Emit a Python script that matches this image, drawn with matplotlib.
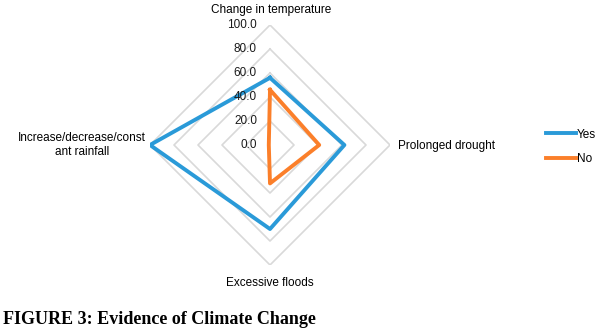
import numpy as np
import matplotlib
matplotlib.use('Agg')
import matplotlib.pyplot as plt
from matplotlib.transforms import offset_copy

categories = ['Change in temperature', 'Prolonged drought', 'Excessive floods',
              'Increase/decrease/const\nant rainfall']
yes_vals = [56, 62, 70, 100]
no_vals = [46, 41, 32, 1]
ring_levels = [0, 20, 40, 60, 80, 100]
ring_labels = ['0.0', '20.0', '40.0', '60.0', '80.0', '100.0']

plt.rcParams['font.family'] = ['Liberation Sans', 'DejaVu Sans']

W, H = 615, 333
fig = plt.figure(figsize=(W / 100, H / 100), dpi=100)
cx, cy, rad = 270, 145, 120
ax = fig.add_axes([(cx - rad) / W, (H - cy - rad) / H, 2 * rad / W, 2 * rad / H],
                  projection='polar')
ax.set_theta_offset(np.pi / 2)
ax.set_theta_direction(-1)
ax.set_ylim(0, 100)
ax.grid(False)
ax.spines['polar'].set_visible(False)
ax.set_xticks([])
ax.set_yticks([])
ax.patch.set_visible(False)

theta = np.linspace(0, 2 * np.pi, len(categories), endpoint=False)
theta_closed = np.append(theta, theta[0])

# diamond rings
for r in ring_levels[1:]:
    ax.plot(theta_closed, [r] * len(theta_closed), color='#d9d9d9', lw=1.2, zorder=1)

def closed(v):
    return v + v[:1]

ax.plot(theta_closed, closed(yes_vals), color='#2a9ad8', lw=2.8, label='Yes', zorder=3)
ax.plot(theta_closed, closed(no_vals), color='#fb7f2a', lw=2.8, label='No', zorder=3)

# ring value labels
lab_tr = offset_copy(ax.transData, fig=fig, x=-13, y=0, units='dots')
for r, lab in zip(ring_levels, ring_labels):
    ax.text(0, r, lab, transform=lab_tr, ha='right', va='center', fontsize=8.5,
            color='#1a1a1a')

# category labels
fig.text(271 / W, 1 - 10 / H, categories[0], ha='center', va='center', fontsize=8.5)
fig.text(398 / W, 1 - 146 / H, categories[1], ha='left', va='center', fontsize=8.5)
fig.text(270 / W, 1 - 283 / H, categories[2], ha='center', va='center', fontsize=8.5)
fig.text(82 / W, 1 - 145 / H, categories[3], ha='center', va='center', fontsize=8.5,
         linespacing=1.3)

fig.legend(loc='center left', bbox_to_anchor=(535 / W, 1 - 147 / H), frameon=False,
           fontsize=8.5, handlelength=2.6, handletextpad=0.05, labelspacing=1.1)

fig.text(3 / W, 1 - 320 / H, 'FIGURE 3: Evidence of Climate Change', ha='left',
         va='center', fontsize=13, fontweight='bold', family='Liberation Serif')

fig.savefig('out.png', dpi=100)
